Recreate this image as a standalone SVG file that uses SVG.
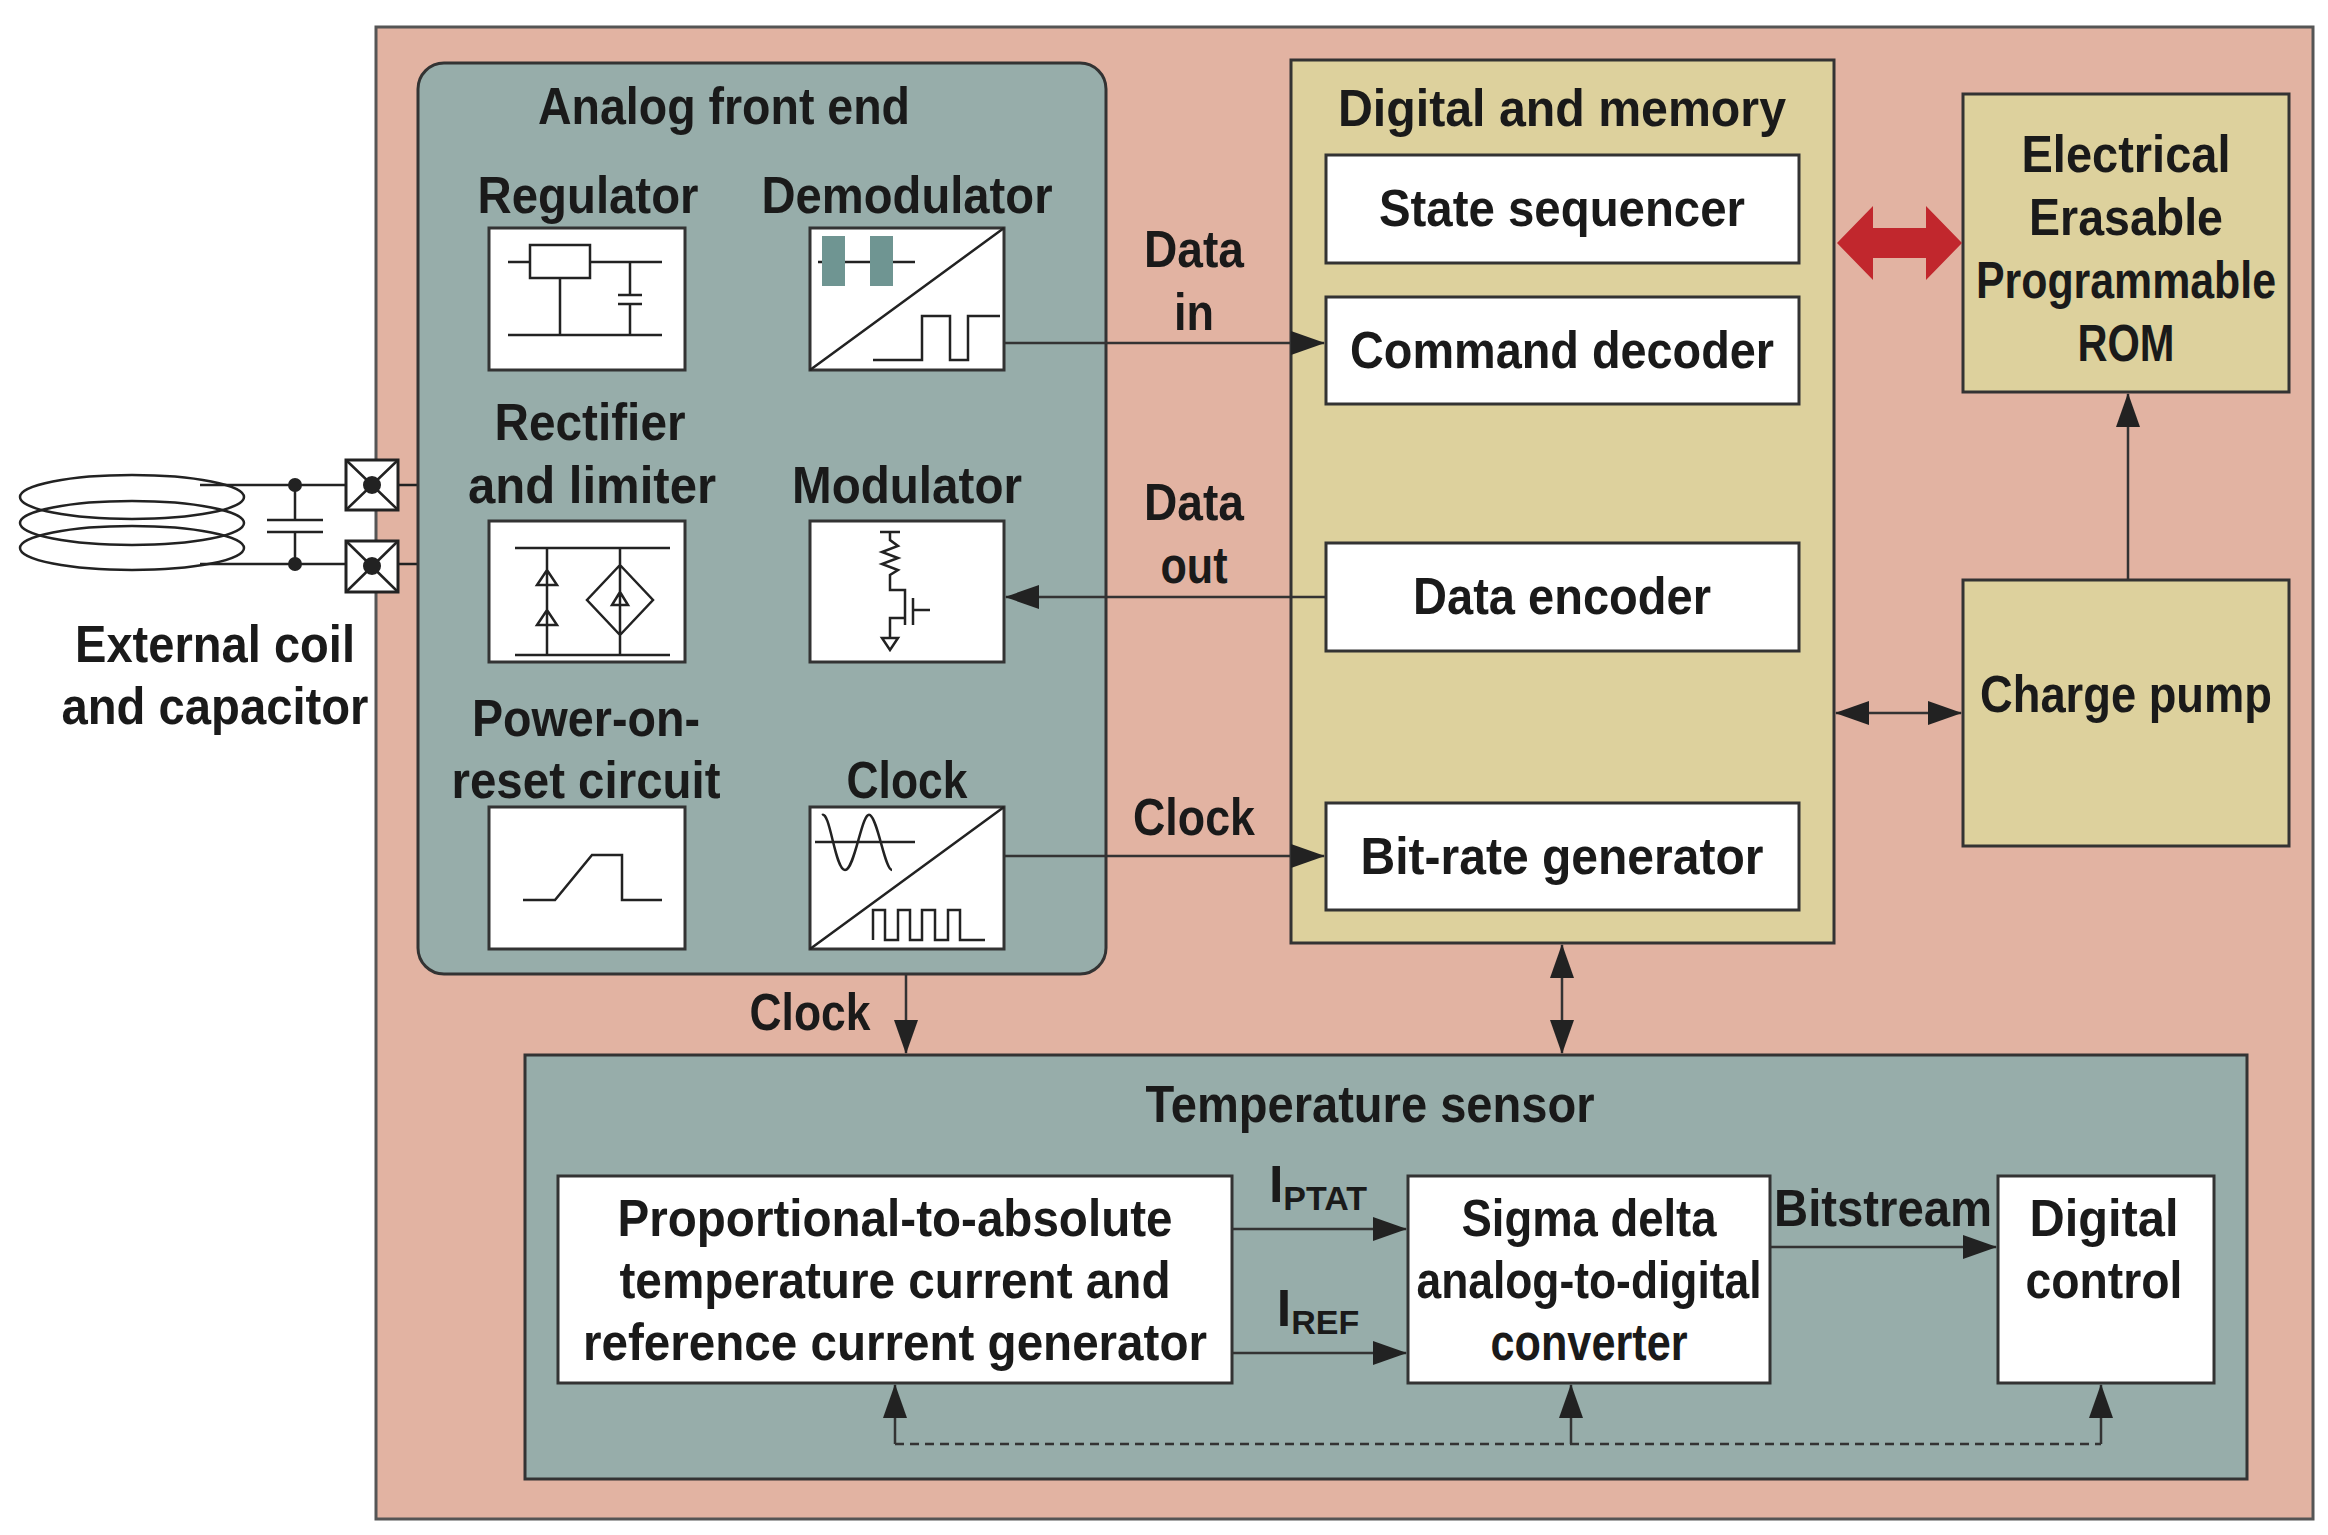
<svg xmlns="http://www.w3.org/2000/svg" width="2328" height="1535" viewBox="0 0 2328 1535">
<defs>
<marker id="ah2" markerWidth="34" markerHeight="24" refX="33" refY="12" orient="auto-start-reverse" markerUnits="userSpaceOnUse"><path d="M0,0 L34,12 L0,24 z" fill="#222"/></marker>
</defs>
<style>
text{font-family:"Liberation Sans",Arial,sans-serif;font-weight:bold;fill:#1a1a1a;text-anchor:middle}
.t{font-size:52px}
.box{fill:#fff;stroke:#333;stroke-width:3}
.ic{fill:none;stroke:#222;stroke-width:2.5}
.c{stroke:#333;stroke-width:2.5;fill:none}
</style>
<rect x="376" y="27" width="1937" height="1492" fill="#e2b3a2" stroke="#555" stroke-width="3"/>
<g id="coil">
<ellipse cx="132" cy="497" rx="112" ry="22" class="ic"/>
<ellipse cx="132" cy="523" rx="112" ry="22" class="ic"/>
<ellipse cx="132" cy="548" rx="112" ry="22" class="ic"/>
<path class="ic" d="M200,485 H346 M200,564 H346 M295,485 V520 M295,532 V564 M267,520 H323 M267,532 H323 M398,485 H418 M398,564 H418"/>
<circle cx="295" cy="485" r="7" fill="#222"/><circle cx="295" cy="564" r="7" fill="#222"/>
<rect x="346" y="460" width="52" height="50" fill="#fff" stroke="#222" stroke-width="3"/>
<path class="ic" d="M346,460 L398,510 M398,460 L346,510"/><circle cx="372" cy="485" r="9" fill="#222"/>
<rect x="346" y="541" width="52" height="51" fill="#fff" stroke="#222" stroke-width="3"/>
<path class="ic" d="M346,541 L398,592 M398,541 L346,592"/><circle cx="372" cy="566" r="9" fill="#222"/>
<text class="t" x="215" y="662" textLength="280" lengthAdjust="spacingAndGlyphs">External coil</text>
<text class="t" x="215" y="724" textLength="307" lengthAdjust="spacingAndGlyphs">and capacitor</text>
</g>
<g id="afe">
<rect x="418" y="63" width="688" height="911" rx="26" fill="#97adaa" stroke="#333" stroke-width="3"/>
<text class="t" x="724" y="124" textLength="372" lengthAdjust="spacingAndGlyphs">Analog front end</text>
<text class="t" x="588" y="213" textLength="221" lengthAdjust="spacingAndGlyphs">Regulator</text>
<text class="t" x="907" y="213" textLength="291" lengthAdjust="spacingAndGlyphs">Demodulator</text>
<text class="t" x="590" y="440" textLength="191" lengthAdjust="spacingAndGlyphs">Rectifier</text>
<text class="t" x="592" y="503" textLength="248" lengthAdjust="spacingAndGlyphs">and limiter</text>
<text class="t" x="907" y="503" textLength="230" lengthAdjust="spacingAndGlyphs">Modulator</text>
<text class="t" x="586" y="736" textLength="228" lengthAdjust="spacingAndGlyphs">Power-on-</text>
<text class="t" x="586" y="798" textLength="269" lengthAdjust="spacingAndGlyphs">reset circuit</text>
<text class="t" x="907" y="798" textLength="121" lengthAdjust="spacingAndGlyphs">Clock</text>
<rect class="box" x="489" y="228" width="196" height="142"/>
<path class="ic" d="M508,262 H530 M530,245 H590 V278 H530 Z M590,262 H662 M560,278 V335 M508,335 H662 M630,262 V295 M618,295 H642 M618,304 H642 M630,304 V335"/>
<rect class="box" x="810" y="228" width="194" height="142"/>
<path class="ic" d="M810,370 L1004,228 M818,262 H915 M873,360 H922 V316 H950 V360 H968 V316 H1000"/>
<rect x="822" y="236" width="23" height="50" fill="#6f9592"/><rect x="870" y="236" width="23" height="50" fill="#6f9592"/>
<rect class="box" x="489" y="521" width="196" height="141"/>
<path class="ic" d="M515,548 H670 M515,655 H670 M547,548 V655 M537,585 H557 L547,570 Z M537,625 H557 L547,610 Z M620,548 V655 M620,565 L653,600 L620,635 L587,600 Z M612,605 H628 L620,592 Z"/>
<rect class="box" x="810" y="521" width="194" height="141"/>
<path class="ic" d="M880,532 H900 M890,532 V540 L898,546 L882,552 L898,558 L882,564 L898,570 L890,575 V590 H905 V612 M905,598 V625 M913,598 V625 M913,610 H930 M905,618 H890 V638 M882,638 H898 L890,650 Z"/>
<rect class="box" x="489" y="807" width="196" height="142"/>
<path class="ic" d="M523,900 H555 L592,855 H622 V900 H662"/>
<rect class="box" x="810" y="807" width="194" height="142"/>
<path class="ic" d="M810,949 L1004,807 M815,842 H915 M822,815 C830,810 835,870 845,870 S862,810 870,815 S885,870 892,870 M873,940 V910 H885 V940 H898 V910 H910 V940 H922 V910 H935 V940 H948 V910 H960 V940 H985"/>
</g>
<g id="digital">
<rect x="1291" y="60" width="543" height="883" fill="#ddd19d" stroke="#333" stroke-width="3"/>
<text class="t" x="1562" y="126" textLength="448" lengthAdjust="spacingAndGlyphs">Digital and memory</text>
<rect class="box" x="1326" y="155" width="473" height="108"/><text class="t" x="1562" y="226" textLength="366" lengthAdjust="spacingAndGlyphs">State sequencer</text>
<rect class="box" x="1326" y="297" width="473" height="107"/><text class="t" x="1562" y="368" textLength="424" lengthAdjust="spacingAndGlyphs">Command decoder</text>
<rect class="box" x="1326" y="543" width="473" height="108"/><text class="t" x="1562" y="614" textLength="298" lengthAdjust="spacingAndGlyphs">Data encoder</text>
<rect class="box" x="1326" y="803" width="473" height="107"/><text class="t" x="1562" y="874" textLength="403" lengthAdjust="spacingAndGlyphs">Bit-rate generator</text>
</g>
<g id="eeprom">
<rect x="1963" y="94" width="326" height="298" fill="#ddd19d" stroke="#333" stroke-width="3"/>
<text class="t" x="2126" y="172" textLength="209" lengthAdjust="spacingAndGlyphs">Electrical</text>
<text class="t" x="2126" y="235" textLength="194" lengthAdjust="spacingAndGlyphs">Erasable</text>
<text class="t" x="2126" y="298" textLength="300" lengthAdjust="spacingAndGlyphs">Programmable</text>
<text class="t" x="2126" y="361" textLength="97" lengthAdjust="spacingAndGlyphs">ROM</text>
</g>
<g id="chargepump">
<rect x="1963" y="580" width="326" height="266" fill="#ddd19d" stroke="#333" stroke-width="3"/>
<text class="t" x="2126" y="712" textLength="292" lengthAdjust="spacingAndGlyphs">Charge pump</text>
</g>
<g id="temp">
<rect x="525" y="1055" width="1722" height="424" fill="#97adaa" stroke="#333" stroke-width="3"/>
<text class="t" x="1370" y="1122" textLength="449" lengthAdjust="spacingAndGlyphs">Temperature sensor</text>
<rect class="box" x="558" y="1176" width="674" height="207"/>
<text class="t" x="895" y="1236" textLength="555" lengthAdjust="spacingAndGlyphs">Proportional-to-absolute</text>
<text class="t" x="895" y="1298" textLength="551" lengthAdjust="spacingAndGlyphs">temperature current and</text>
<text class="t" x="895" y="1360" textLength="624" lengthAdjust="spacingAndGlyphs">reference current generator</text>
<rect class="box" x="1408" y="1176" width="362" height="207"/>
<text class="t" x="1589" y="1236" textLength="255" lengthAdjust="spacingAndGlyphs">Sigma delta</text>
<text class="t" x="1589" y="1298" textLength="345" lengthAdjust="spacingAndGlyphs">analog-to-digital</text>
<text class="t" x="1589" y="1360" textLength="197" lengthAdjust="spacingAndGlyphs">converter</text>
<rect class="box" x="1998" y="1176" width="216" height="207"/>
<text class="t" x="2104" y="1236" textLength="149" lengthAdjust="spacingAndGlyphs">Digital</text>
<text class="t" x="2104" y="1298" textLength="157" lengthAdjust="spacingAndGlyphs">control</text>
</g>
<g id="connectors">
<path class="c" d="M1004,343 H1324" marker-end="url(#ah2)"/>
<path class="c" d="M1326,597 H1006" marker-end="url(#ah2)"/>
<path class="c" d="M1004,856 H1324" marker-end="url(#ah2)"/>
<path class="c" d="M906,974 V1053" marker-end="url(#ah2)"/>
<path class="c" d="M1562,945 V1053" marker-start="url(#ah2)" marker-end="url(#ah2)"/>
<path class="c" d="M1836,713 H1961" marker-start="url(#ah2)" marker-end="url(#ah2)"/>
<path class="c" d="M2128,580 V394" marker-end="url(#ah2)"/>
<path d="M1837,243 L1873,206 V228 H1926 V206 L1962,243 L1926,280 V258 H1873 V280 Z" fill="#c1272d"/>
<path class="c" d="M1232,1229 H1406" marker-end="url(#ah2)"/>
<path class="c" d="M1232,1353 H1406" marker-end="url(#ah2)"/>
<path class="c" d="M1770,1247 H1996" marker-end="url(#ah2)"/>
<path class="c" stroke-dasharray="9,6" d="M895,1444 H2101"/>
<path class="c" d="M895,1444 V1385" marker-end="url(#ah2)"/>
<path class="c" d="M1571,1444 V1385" marker-end="url(#ah2)"/>
<path class="c" d="M2101,1444 V1385" marker-end="url(#ah2)"/>
<text class="t" x="1194" y="267" textLength="100" lengthAdjust="spacingAndGlyphs">Data</text>
<text class="t" x="1194" y="330" textLength="40" lengthAdjust="spacingAndGlyphs">in</text>
<text class="t" x="1194" y="520" textLength="100" lengthAdjust="spacingAndGlyphs">Data</text>
<text class="t" x="1194" y="583" textLength="67" lengthAdjust="spacingAndGlyphs">out</text>
<text class="t" x="1194" y="835" textLength="122" lengthAdjust="spacingAndGlyphs">Clock</text>
<text class="t" x="810" y="1030" textLength="121" lengthAdjust="spacingAndGlyphs">Clock</text>
<text class="t" x="1883" y="1226" textLength="218" lengthAdjust="spacingAndGlyphs">Bitstream</text>
<text class="t" x="1318" y="1202">I<tspan font-size="34" dy="8">PTAT</tspan></text>
<text class="t" x="1318" y="1326">I<tspan font-size="34" dy="8">REF</tspan></text>
</g>
</svg>
